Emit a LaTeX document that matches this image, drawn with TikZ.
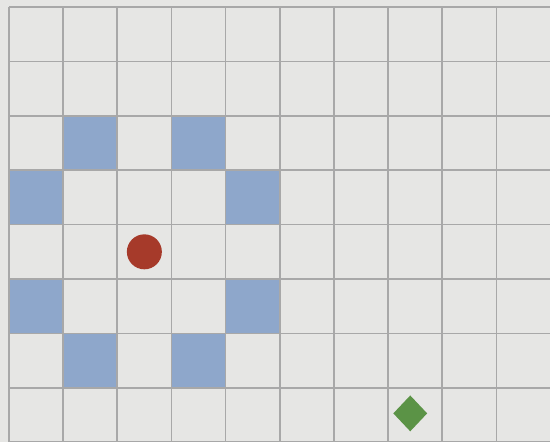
\documentclass[tikz,border=0pt]{standalone}
\usetikzlibrary{shapes.geometric}
\definecolor{tilegray}{HTML}{E6E6E4}
\definecolor{gridline}{HTML}{A8A8A8}
\definecolor{wallblue}{HTML}{8EA7CB}
\definecolor{agentred}{HTML}{A63A2A}
\definecolor{goalgreen}{HTML}{5B9346}
\begin{document}
\begin{tikzpicture}[x=54.15pt, y=-54.4pt,
  wall/.style={fill=wallblue},
  gridrule/.style={draw=gridline, line width=1.6pt},
  agentdot/.style={circle, fill=agentred, minimum size=35pt, inner sep=0pt},
  goalmark/.style={diamond, fill=goalgreen, minimum width=34pt, minimum height=36pt, inner sep=0pt}]
  % canvas
  \fill[tilegray] (-0.166,-0.129) rectangle (9.991,7.996);
  \useasboundingbox (-0.166,-0.129) rectangle (9.991,7.996);
  % walls
  \foreach \c/\r in {1/2, 3/2, 0/3, 4/3, 0/5, 4/5, 1/6, 3/6}
    \fill[wall] (\c,\r) rectangle ++(1,1);
  % grid
  \foreach \c in {0,...,10}
    \draw[gridrule] (\c,0) -- (\c,8);
  \foreach \r in {0,...,8}
    \draw[gridrule] (0,\r) -- (10,\r);
  % agent and goal
  \node[agentdot] (agent) at (2.5,4.5) {};
  \node[goalmark] (goal) at (7.41,7.47) {};
\end{tikzpicture}
\end{document}
